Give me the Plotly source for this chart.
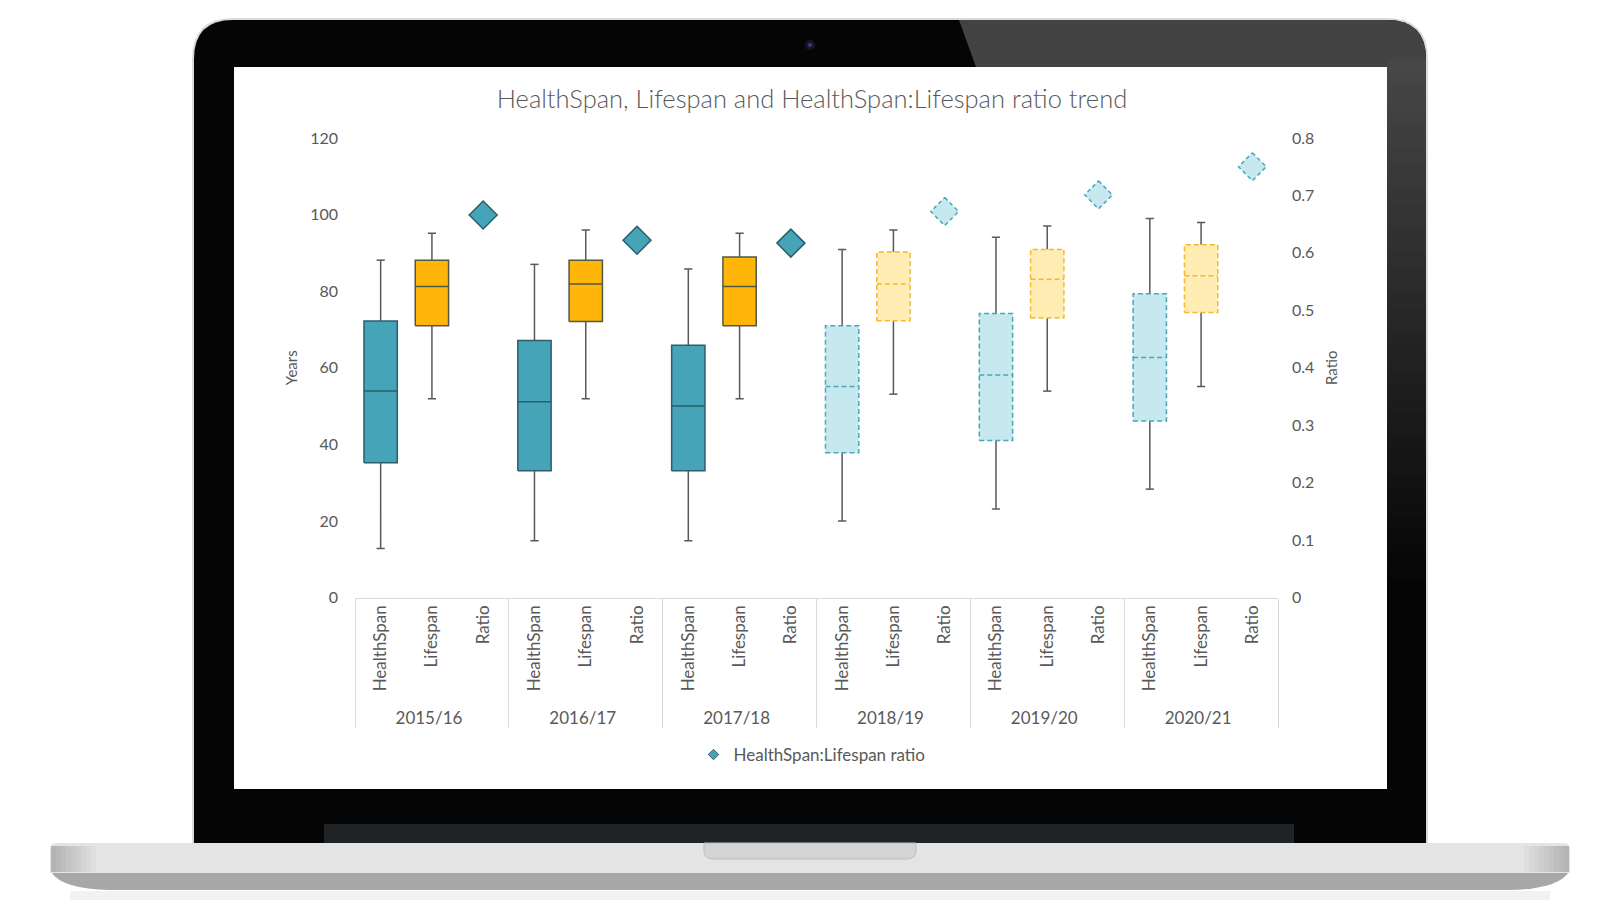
import plotly.graph_objects as go

W, H = 1600, 900

# ---- data ------------------------------------------------------------------
years = ['2015/16', '2016/17', '2017/18', '2018/19', '2019/20', '2020/21']
measures = ['HealthSpan', 'Lifespan', 'Ratio']
projected = [False, False, False, True, True, True]

hs_low = [12.8, 14.8, 14.8, 20.0, 23.1, 28.3]
hs_q1 = [35.2, 33.1, 33.1, 37.8, 41.0, 46.1]
hs_med = [53.9, 51.1, 50.0, 55.1, 58.1, 62.7]
hs_q3 = [72.2, 67.1, 65.9, 71.0, 74.2, 79.3]
hs_high = [88.1, 87.0, 85.8, 90.9, 94.1, 99.0]

ls_low = [51.9, 51.9, 51.9, 53.1, 53.9, 55.1]
ls_q1 = [71.0, 72.1, 71.0, 72.3, 73.0, 74.4]
ls_med = [81.2, 81.9, 81.2, 81.9, 83.1, 84.0]
ls_q3 = [88.1, 88.1, 88.9, 90.2, 90.9, 92.1]
ls_high = [95.1, 96.0, 95.1, 96.0, 97.0, 97.9]

ratio = [0.666, 0.622, 0.617, 0.672, 0.701, 0.750]

year_ticks = [0, 20, 40, 60, 80, 100, 120]
ratio_ticks = [0, 0.1, 0.2, 0.3, 0.4, 0.5, 0.6, 0.7, 0.8]

# ---- styling ----------------------------------------------------------------
FONT = 'Lato'
GREY = '#595959'
TEAL, TEAL_EDGE = '#45a4b8', '#2a5f6b'
GOLD, GOLD_EDGE = '#ffb50a', '#4e5a46'
TEAL_LIGHT, TEAL_DASH = '#c6e8ef', '#4aa6b8'
GOLD_LIGHT, GOLD_DASH = '#ffedb3', '#f5b82e'
DASH = '5px,3px'


def P(x, y):
    # pixel position on the 1600x900 page -> paper coords (margins are 0)
    return f'{x / W:.5f},{1 - y / H:.5f}'


def rect(x0, y0, x1, y1, fill, line=None):
    return dict(type='rect', xref='paper', yref='paper', layer='below',
                x0=x0 / W, x1=x1 / W, y0=1 - y1 / H, y1=1 - y0 / H,
                fillcolor=fill, line=dict(width=1 if line else 0, color=line or fill))


def path(d, fill, line=None):
    return dict(type='path', xref='paper', yref='paper', layer='below', path=d,
                fillcolor=fill, line=dict(width=1 if line else 0, color=line or fill))


def top_rounded(x0, y0, x1, y1, r):
    return (f'M {P(x0, y1)} L {P(x0, y0 + r)} Q {P(x0, y0)} {P(x0 + r, y0)} '
            f'L {P(x1 - r, y0)} Q {P(x1, y0)} {P(x1, y0 + r)} L {P(x1, y1)} Z')


def grey(v):
    v = max(0, min(255, int(v)))
    return f'#{v:02x}{v:02x}{v:02x}'


def box_traces(slots, low, q1, med, q3, high, fill, edge, dash):
    hw, cw = 0.325, 0.08
    wx, wy, bx, by, mx, my = [], [], [], [], [], []
    for s, lo, a, m, b, hi in zip(slots, low, q1, med, q3, high):
        wx += [s, s, None, s, s, None, s - cw, s + cw, None, s - cw, s + cw, None]
        wy += [hi, b, None, a, lo, None, hi, hi, None, lo, lo, None]
        bx += [s - hw, s + hw, s + hw, s - hw, s - hw, None]
        by += [a, a, b, b, a, None]
        mx += [s - hw, s + hw, None]
        my += [m, m, None]
    common = dict(xaxis='x2', yaxis='y', showlegend=False, hoverinfo='skip')
    return [
        go.Scatter(x=wx, y=wy, mode='lines', line=dict(color=GREY, width=1.5), **common),
        go.Scatter(x=bx, y=by, mode='lines', fill='toself', fillcolor=fill,
                   line=dict(color=edge, width=1.5, dash=dash), **common),
        go.Scatter(x=mx, y=my, mode='lines', line=dict(color=edge, width=1.5, dash=dash), **common),
    ]


def pick(values, flags, want):
    return [v for v, f in zip(values, flags) if f == want]


fig = go.Figure()

# invisible trace that sets up the two-level category axis
fig.add_trace(go.Scatter(
    x=[[y for y in years for _ in measures], [m for _ in years for m in measures]],
    y=[None] * (len(years) * len(measures)),
    mode='markers', showlegend=False, hoverinfo='skip', xaxis='x', yaxis='y'))

hs_slot = [i * 3 for i in range(len(years))]
ls_slot = [i * 3 + 1 for i in range(len(years))]
r_slot = [i * 3 + 2 for i in range(len(years))]

for proj in (False, True):
    hs_style = (TEAL_LIGHT, TEAL_DASH, DASH) if proj else (TEAL, TEAL_EDGE, 'solid')
    ls_style = (GOLD_LIGHT, GOLD_DASH, DASH) if proj else (GOLD, GOLD_EDGE, 'solid')
    for t in box_traces(pick(hs_slot, projected, proj), pick(hs_low, projected, proj),
                        pick(hs_q1, projected, proj), pick(hs_med, projected, proj),
                        pick(hs_q3, projected, proj), pick(hs_high, projected, proj),
                        *hs_style):
        fig.add_trace(t)
    for t in box_traces(pick(ls_slot, projected, proj), pick(ls_low, projected, proj),
                        pick(ls_q1, projected, proj), pick(ls_med, projected, proj),
                        pick(ls_q3, projected, proj), pick(ls_high, projected, proj),
                        *ls_style):
        fig.add_trace(t)

# ratio diamonds: actual years as markers, projected ones as dashed outlines
fig.add_trace(go.Scatter(
    x=pick(r_slot, projected, False), y=pick(ratio, projected, False),
    mode='markers', xaxis='x2', yaxis='y2', showlegend=False,
    marker=dict(symbol='diamond', size=21.5, color=TEAL, line=dict(color=TEAL_EDGE, width=1.5))))

dx, dy = 0.27, 0.0244
px_, py_ = [], []
for s, r in zip(pick(r_slot, projected, True), pick(ratio, projected, True)):
    px_ += [s, s + dx, s, s - dx, s, None]
    py_ += [r + dy, r, r - dy, r, r + dy, None]
fig.add_trace(go.Scatter(
    x=px_, y=py_, mode='lines', fill='toself', fillcolor=TEAL_LIGHT,
    line=dict(color=TEAL_DASH, width=1.5, dash='4px,3px'),
    xaxis='x2', yaxis='y2', showlegend=False, hoverinfo='skip'))

# legend entry
fig.add_trace(go.Scatter(
    x=[None], y=[None], mode='markers', name='HealthSpan:Lifespan ratio',
    xaxis='x2', yaxis='y2',
    marker=dict(symbol='diamond', size=8, color=TEAL, line=dict(color=TEAL_EDGE, width=1))))

# ---- laptop frame -------------------------------------------------------------
shapes = [
    path(top_rounded(192, 18, 1428, 845, 41), '#dadada'),
    path(top_rounded(194, 20, 1426, 845, 39), '#050505'),
    path(f'M {P(959, 20)} L {P(1387, 20)} Q {P(1426, 20)} {P(1426, 59)} '
         f'L {P(1426, 67)} L {P(976, 67)} Z', '#434343'),
]
steps = 40
for i in range(steps):
    shapes.append(rect(1387, 59 + i * 13, 1426, 59 + (i + 1) * 13 + 1,
                       grey(0x47 - (0x47 - 0x07) * i / (steps - 1))))
shapes += [
    rect(234, 67, 1387, 789, 'white'),
    rect(324, 824, 1294, 845, '#1f2326'),
    dict(type='circle', xref='paper', yref='paper', layer='below',
         x0=805 / W, x1=815 / W, y0=1 - 50 / H, y1=1 - 40 / H,
         fillcolor='#15152a', line=dict(width=0)),
    dict(type='circle', xref='paper', yref='paper', layer='below',
         x0=808 / W, x1=812 / W, y0=1 - 47 / H, y1=1 - 43 / H,
         fillcolor='#3b3b7a', line=dict(width=0)),
    rect(70, 891, 1550, 900, '#f2f2f2'),
    path(f'M {P(51, 872)} L {P(1569, 872)} Q {P(1558, 889)} {P(1510, 890)} '
         f'L {P(110, 890)} Q {P(62, 889)} {P(51, 872)} Z', '#a7a7a7'),
    path(f'M {P(56, 843)} L {P(1564, 843)} Q {P(1570, 843)} {P(1570, 850)} '
         f'L {P(1570, 873)} L {P(50, 873)} L {P(50, 850)} Q {P(50, 843)} {P(56, 843)} Z', '#e4e4e4'),
]
# darker shading towards both ends of the base
for i in range(10):
    shade = grey(0xb4 + (0xe4 - 0xb4) * i / 9)
    shapes.append(rect(51 + i * 5, 846, 51 + (i + 1) * 5, 872, shade))
    shapes.append(rect(1569 - (i + 1) * 5, 846, 1569 - i * 5, 872, shade))
shapes.append(path(f'M {P(704, 843)} L {P(916, 843)} L {P(916, 851)} Q {P(916, 859)} {P(906, 859)} '
                   f'L {P(714, 859)} Q {P(704, 859)} {P(704, 851)} Z', '#d4d4d4', '#bcbcbc'))

x0, x1 = 355 / W, 1278 / W
y0, y1 = 1 - 597.5 / H, 1 - 138 / H

fig.update_layout(
    width=W, height=H, autosize=False,
    margin=dict(l=0, r=0, t=0, b=0, pad=0, autoexpand=False),
    paper_bgcolor='white', plot_bgcolor='rgba(0,0,0,0)',
    font=dict(family=FONT, color=GREY),
    title=dict(text='HealthSpan, Lifespan and HealthSpan:Lifespan ratio trend',
               xref='paper', yref='paper', x=812 / W, y=1 - 99 / H,
               xanchor='center', yanchor='middle',
               font=dict(family=FONT, size=25.5, color=GREY, weight=300)),
    xaxis=dict(type='multicategory', domain=[x0, x1], range=[-0.5, 17.5], anchor='y',
               showline=True, linecolor='#d9d9d9', linewidth=1, ticks='',
               showgrid=False, tickangle=-90, tickfont=dict(size=17, color=GREY),
               showdividers=True, dividercolor='#d9d9d9', dividerwidth=1),
    xaxis2=dict(overlaying='x', domain=[x0, x1], range=[-0.5, 17.5], visible=False, anchor='y'),
    yaxis=dict(domain=[y0, y1], range=[0, 120], tickvals=year_ticks, showgrid=False,
               zeroline=False, showline=False, ticks='', tickfont=dict(size=16, color=GREY),
               ticklabelstandoff=16,
               title=dict(text='Years', standoff=8, font=dict(size=15, color=GREY))),
    yaxis2=dict(overlaying='y', side='right', range=[0, 0.8], tickvals=ratio_ticks,
                ticktext=[f'{v:g}' for v in ratio_ticks], showgrid=False, zeroline=False,
                showline=False, ticks='', tickfont=dict(size=16, color=GREY),
                ticklabelstandoff=13,
                title=dict(text='Ratio', standoff=13, font=dict(size=15, color=GREY))),
    legend=dict(orientation='h', x=812 / W, y=1 - 755 / H, xanchor='center', yanchor='middle',
                itemwidth=30, font=dict(size=17, color=GREY), bgcolor='rgba(0,0,0,0)'),
    shapes=shapes,
)

fig.write_html('out.html', config={'displayModeBar': False},
               post_script="document.body.style.margin='0px';")
